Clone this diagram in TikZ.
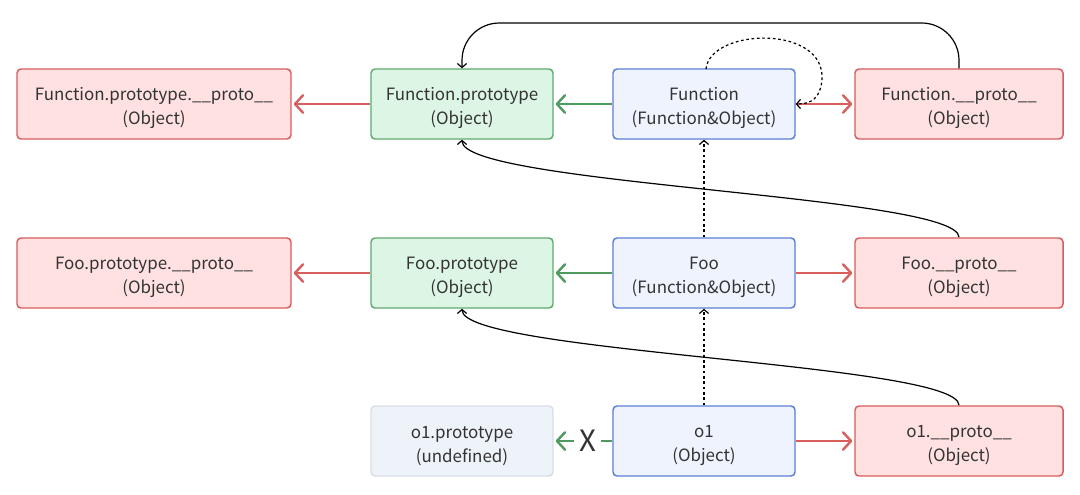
\documentclass[tikz,border=0pt]{standalone}
\usepackage{fontspec}
\setmainfont{Noto Sans CJK SC}
\usetikzlibrary{arrows.meta}
\definecolor{redfill}{HTML}{FFE1E1}
\definecolor{reddraw}{HTML}{D85C5C}
\definecolor{greenfill}{HTML}{DDF5E4}
\definecolor{greendraw}{HTML}{5FAA6E}
\definecolor{bluefill}{HTML}{EEF3FD}
\definecolor{bluedraw}{HTML}{5B80D3}
\definecolor{grayfill}{HTML}{EEF2F9}
\definecolor{graydraw}{HTML}{D9DEE6}
\definecolor{redarrow}{HTML}{D95F5D}
\definecolor{greenarrow}{HTML}{4F9B5F}
\definecolor{textcol}{HTML}{333333}
\newcommand{\tstrut}{\rule{0pt}{16pt}}
\begin{document}
\begin{tikzpicture}[x=0.75pt,y=-0.75pt,
  box/.style={rectangle, rounded corners=3pt, line width=1.1pt, minimum height=52.5pt,
    align=center, font=\fontsize{12.7}{18}\selectfont, text=textcol, inner sep=0pt},
  redbox/.style={box, fill=redfill, draw=reddraw},
  greenbox/.style={box, fill=greenfill, draw=greendraw, minimum width=136.5pt},
  bluebox/.style={box, fill=bluefill, draw=bluedraw, minimum width=136.5pt},
  graybox/.style={box, fill=grayfill, draw=graydraw, minimum width=136.5pt},
  redarr/.style={draw=redarrow, line width=1.8pt, -{Straight Barb[length=6pt,width=13pt,line cap=round,line join=round]}, shorten >=1.5pt},
  greenarr/.style={draw=greenarrow, line width=1.8pt, -{Straight Barb[length=6pt,width=13pt,line cap=round,line join=round]}, shorten >=1.5pt},
  blackarr/.style={draw=black, line width=0.9pt, -{Straight Barb[length=3pt,width=7pt]}},
  dotarr/.style={blackarr, dash pattern=on 2pt off 2pt},
]
\fill[white] (0,0) rectangle (1080,494);
\useasboundingbox (0,0) rectangle (1080,494);

% row 1
\node[redbox, minimum width=205.5pt] (fppp) at (154,104) {\tstrut Function.prototype.\_\_proto\_\_\\(Object)};
\node[greenbox] (fpp) at (462,104) {\tstrut Function.prototype\\(Object)};
\node[bluebox] (fn) at (704,104) {\tstrut Function\\(Function\&Object)};
\node[redbox, minimum width=156pt] (fnp) at (959,104) {\tstrut Function.\_\_proto\_\_\\(Object)};
% row 2
\node[redbox, minimum width=205.5pt] (foppp) at (154,273) {\tstrut Foo.prototype.\_\_proto\_\_\\(Object)};
\node[greenbox] (fop) at (462,273) {\tstrut Foo.prototype\\(Object)};
\node[bluebox] (foo) at (704,273) {\tstrut Foo\\(Function\&Object)};
\node[redbox, minimum width=156pt] (foop) at (959,273) {\tstrut Foo.\_\_proto\_\_\\(Object)};
% row 3
\node[graybox] (o1p) at (462,441) {\tstrut o1.prototype\\(undefined)};
\node[bluebox] (o1) at (704,441) {\tstrut o1\\(Object)};
\node[redbox, minimum width=156pt] (o1pp) at (959,441) {\tstrut o1.\_\_proto\_\_\\(Object)};

% horizontal arrows
\draw[redarr] (fpp.west) -- (fppp.east);
\draw[greenarr] (fn.west) -- (fpp.east);
\draw[redarr] (fn.east) -- (fnp.west);
\draw[redarr] (fop.west) -- (foppp.east);
\draw[greenarr] (foo.west) -- (fop.east);
\draw[redarr] (foo.east) -- (foop.west);
\draw[redarr] (o1.east) -- (o1pp.west);
\draw[greenarr] (o1.west) -- node[pos=0.42, fill=white, inner xsep=4pt, inner ysep=1pt, text=textcol, font=\fontsize{22}{22}\selectfont] (x) {X} (o1p.east);

% dotted vertical arrows
\draw[dotarr] (foo.north) -- (fn.south);
\draw[dotarr] (o1.north) -- (foo.south);

% dotted self loop on Function
\coordinate (loopstart) at (706,69);
\coordinate (loopmid) at (822,80);
\draw[dotarr] (loopstart) .. controls (710,28) and (826,24) .. (loopmid) .. controls (820,98) and (812,104) .. (fn.east);

% curved black arrows
\draw[blackarr, rounded corners=28pt] (fnp.north) -- (959,23) -- (462,23) -- (fpp.north);
\draw[blackarr] (foop.north) .. controls (959,195) and (462,185) .. (fpp.south);
\draw[blackarr] (o1pp.north) .. controls (959,363) and (462,353) .. (fop.south);
\end{tikzpicture}
\end{document}
